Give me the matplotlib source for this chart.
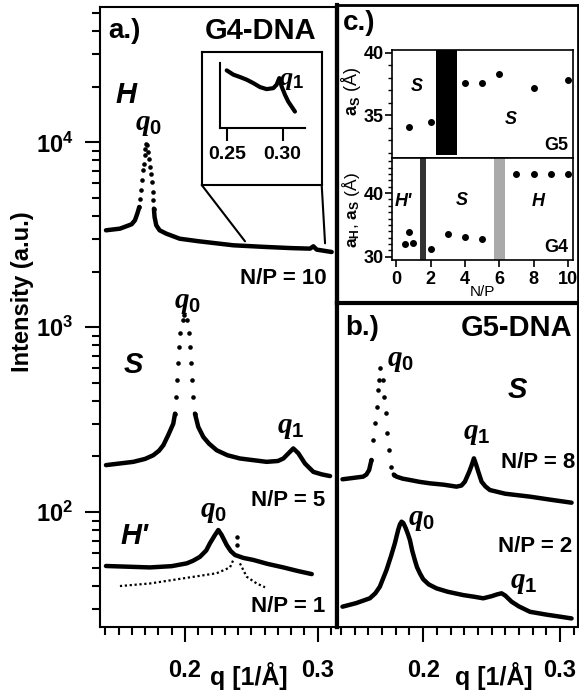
import math
import matplotlib
matplotlib.use("Agg")
import matplotlib.pyplot as plt
from matplotlib.patches import ConnectionPatch
from matplotlib.ticker import MultipleLocator, FixedLocator, LogLocator, NullFormatter, FuncFormatter

# ---- data ----
# a.) G4-DNA, N/P = 10 (H phase)
h_q = [0.1405, 0.151, 0.1598, 0.1623, 0.1641, 0.1656, 0.1661, 0.1668, 0.1678, 0.1686, 0.1691,
       0.1696, 0.1701, 0.1706, 0.1716, 0.1724, 0.1731, 0.1736, 0.1741, 0.1749, 0.1756, 0.1761,
       0.1766, 0.1771, 0.1784, 0.1809, 0.1859, 0.1960, 0.21, 0.2365, 0.26, 0.28, 0.2942,
       0.2967, 0.2992, 0.3105]
h_I = [3345, 3414, 3605, 3788, 4117, 4473, 4960, 5502, 6232, 7057, 7668, 8506, 9244, 9835,
       9637, 8864, 8157, 7356, 6770, 6105, 5389, 4859, 4380, 3948, 3558, 3345, 3209, 3013,
       2920, 2775, 2720, 2680, 2662, 2740, 2630, 2553]
# a.) N/P = 5 (S phase)
s_q = [0.1405, 0.1611, 0.1700, 0.1761, 0.1805, 0.1837, 0.1874, 0.1912, 0.1925, 0.1932, 0.1937,
       0.1945, 0.1952, 0.1962, 0.1982, 0.1995, 0.2018, 0.2028, 0.2038, 0.2045, 0.2053, 0.2063,
       0.2075, 0.2100, 0.2138, 0.2180, 0.2239, 0.2320, 0.2414, 0.2615, 0.2700, 0.2741, 0.2791,
       0.2816, 0.2854, 0.2904, 0.2967, 0.3030, 0.3093]
s_I = [179.5, 187, 194, 203, 215, 230, 261, 301, 341, 420, 517, 637, 783, 925, 1091, 1161, 1091,
       925, 783, 637, 517, 420, 341, 289, 255, 235, 216, 203, 195, 187, 189, 195, 212, 221, 208,
       183, 165, 160, 156.6]
# a.) N/P = 1 (H' phase), solid and dotted traces
hp_q = [0.1405, 0.1736, 0.1900, 0.2013, 0.2060, 0.2113, 0.2160, 0.2188, 0.2226, 0.2251, 0.2276,
        0.2314, 0.2345, 0.2377, 0.2440, 0.2515, 0.2620, 0.2741, 0.2850, 0.2955]
hp_I = [51.1, 50.2, 51.0, 52.8, 54.5, 57.3, 62.0, 67.8, 75.2, 80.0, 75.2, 66.4, 61.5, 58.6,
        56.5, 55.1, 52.5, 50.2, 48.0, 46.2]
hd_q = [0.1510, 0.1736, 0.1987, 0.2239, 0.2339, 0.2364, 0.2389, 0.2391, 0.2414, 0.2465, 0.2540,
        0.2603]
hd_I = [39.8, 41.1, 43.8, 46.7, 50.2, 55.1, 73.6, 66.4, 52.8, 44.7, 41.1, 39.2]
# inset: q1 of the H phase (arbitrary units)
in_q = [0.2500, 0.2560, 0.2619, 0.2679, 0.2738, 0.2798, 0.2857, 0.2917, 0.2946, 0.2970, 0.2991,
        0.3021, 0.3050, 0.3080, 0.3110]
in_I = [88.7, 82.1, 78.5, 74.4, 69.2, 63.1, 60, 61.5, 66.7, 76.9, 64.1, 51.3, 41, 33.3, 25.6]
link_q = [0.2452, 0.3055]
link_I = [2917, 2844]

# b.) G5-DNA
b8_q = [0.1410, 0.1561, 0.1585, 0.1605, 0.1622, 0.1634, 0.1647, 0.1659, 0.1671, 0.1678, 0.1688,
        0.1708, 0.1715, 0.1725, 0.1737, 0.1752, 0.1768, 0.1785, 0.1805, 0.1850, 0.1903, 0.1975,
        0.2049, 0.2150, 0.2244, 0.2280, 0.2305, 0.2337, 0.2355, 0.2371, 0.2388, 0.2403, 0.2427,
        0.2455, 0.2488, 0.2600, 0.2781, 0.2930, 0.3085]
b8_I = [150.8, 155.8, 160, 169.3, 191.8, 246, 303, 372, 458, 519, 600, 519, 422, 343, 267, 217,
        176.5, 160, 155.8, 152, 149.5, 146, 143.4, 141, 137.6, 139.5, 146.4, 165.8, 180, 195.7,
        180, 165.8, 146.4, 138, 131.9, 126, 121.5, 117, 112.7]
b2_q = [0.1410, 0.1510, 0.1610, 0.1650, 0.1683, 0.1705, 0.1732, 0.1765, 0.1793, 0.1817, 0.1830,
        0.1842, 0.1855, 0.1873, 0.1888, 0.1903, 0.1920, 0.1939, 0.1955, 0.1976, 0.2000, 0.2040,
        0.2098, 0.2180, 0.2293, 0.2370, 0.2439, 0.2500, 0.2540, 0.2573, 0.2600, 0.2646, 0.2700,
        0.2781, 0.2900, 0.3000, 0.3085]
b2_I = [30.9, 32.3, 34.3, 36.5, 39.6, 43.5, 48.8, 58, 68, 80.2, 86, 89, 87.5, 81.9, 76.5, 70.8,
        62, 55.2, 50.5, 46.8, 43.5, 40.8, 38.8, 37.2, 35.7, 35.0, 34.3, 35.2, 36.0, 36.5, 35.5,
        32.9, 31, 29, 28, 27.3, 26.7]

# c.) lattice spacings vs N/P
g5_np = [0.75, 2, 4, 5, 6, 8, 10]
g5_a = [34.1, 34.5, 37.6, 37.6, 38.3, 37.15, 37.85]
g5_gap = (2.33, 3.53)
g4_np = [0.5, 0.75, 1, 2, 3, 4, 5, 7, 8, 9, 10]
g4_a = [31.95, 33.85, 32.15, 31.3, 33.6, 33.15, 32.85, 43.05, 43.05, 43.05, 43.05]
g4_gap1 = (1.36, 1.74)
g4_gap2 = (5.70, 6.34)

W, H = 579, 690
plt.rcParams['font.family'] = ['Liberation Sans', 'DejaVu Sans']
plt.rcParams['font.weight'] = 'bold'
plt.rcParams['mathtext.fontset'] = 'custom'
plt.rcParams['mathtext.it'] = 'Liberation Serif:italic'
plt.rcParams['mathtext.rm'] = 'Liberation Sans:bold'
plt.rcParams['mathtext.bf'] = 'Liberation Sans:bold'

fig = plt.figure(figsize=(W / 100, H / 100), dpi=100)


def rect(x0, y0, x1, y1):
    return [x0 / W, 1 - y1 / H, (x1 - x0) / W, (y1 - y0) / H]


def txt(x, y, s, **kw):
    kw.setdefault('ha', 'center')
    kw.setdefault('va', 'center')
    return fig.text(x / W, 1 - y / H, s, **kw)


def trace(ax, q, I, dots):
    # solid line where the points are dense, single dots on the steep peak flanks
    i0, i1 = dots
    kw = dict(color='k', lw=3.2, solid_capstyle='round', solid_joinstyle='round')
    ax.plot(q[:i0 + 1], I[:i0 + 1], **kw)
    ax.plot(q[i1 - 1:], I[i1 - 1:], **kw)
    ax.plot(q[i0:i1], I[i0:i1], 'o', color='k', ms=3.3, mec='none')


def qlabel(x, y, sub, size=21):
    txt(x, y, r'$\mathit{q_%s}$' % sub, fontsize=size)


# ---- a.) ----
ax_a = fig.add_axes(rect(100, 7, 337, 627))
ax_a.set_yscale('log')
ax_a.set_xlim(0.136, 0.3145)
ax_a.set_ylim(23.9, 5.4e4)
trace(ax_a, h_q, h_I, (5, 23))
trace(ax_a, s_q, s_I, (8, 23))
ax_a.plot(hp_q, hp_I, color='k', lw=3.2, solid_capstyle='round', solid_joinstyle='round')
ax_a.plot(hd_q[:6], hd_I[:6], color='k', lw=1.6, ls=(0, (1, 1.2)))
ax_a.plot(hd_q[8:], hd_I[8:], color='k', lw=1.6, ls=(0, (1, 1.2)))
ax_a.plot(hd_q[6:8], hd_I[6:8], 'o', color='k', ms=2.2)
ax_a.xaxis.set_major_locator(FixedLocator([0.2, 0.3]))
ax_a.xaxis.set_minor_locator(MultipleLocator(0.01))
ax_a.xaxis.set_major_formatter(FuncFormatter(lambda v, p: '%.1f' % v))
ax_a.yaxis.set_major_locator(LogLocator(base=10))
ax_a.yaxis.set_minor_locator(LogLocator(base=10, subs=range(2, 10)))
ax_a.yaxis.set_minor_formatter(NullFormatter())
ax_a.yaxis.set_major_formatter(FuncFormatter(lambda v, p: r'$\mathbf{10^{%d}}$' % round(math.log10(v))))
ax_a.tick_params(which='major', direction='out', length=11, width=1.5, labelsize=17)
ax_a.tick_params(which='minor', direction='out', length=6, width=1.5)
ax_a.tick_params(axis='x', which='major', pad=12)
ax_a.tick_params(axis='y', which='major', pad=8)
for s in ax_a.spines.values():
    s.set_linewidth(1.5)
ax_a.spines['right'].set_linewidth(3)

# inset box + zoomed axes
box = fig.add_axes(rect(201.7, 51.7, 321.7, 185))
box.set_xticks([])
box.set_yticks([])
for s in box.spines.values():
    s.set_linewidth(1.5)
box.patch.set_alpha(0)
ax_in = fig.add_axes(rect(220, 63, 305, 128.3))
ax_in.plot(in_q, in_I, color='k', lw=3, solid_capstyle='round')
ax_in.set_xlim(0.244, 0.320)
ax_in.set_ylim(0, 100)
ax_in.set_xticks([0.25, 0.30])
ax_in.set_xticklabels(['0.25', '0.30'])
ax_in.set_yticks([])
ax_in.spines['top'].set_visible(False)
ax_in.spines['right'].set_visible(False)
for s in ax_in.spines.values():
    s.set_linewidth(1.5)
ax_in.tick_params(axis='x', direction='out', length=9, width=1.5, labelsize=14, pad=4)
ax_in.patch.set_alpha(0)
for corner, q, I in zip([(0, 0), (1, 0)], link_q, link_I):
    con = ConnectionPatch(xyA=corner, coordsA=box.transAxes, xyB=(q, I), coordsB=ax_a.transData,
                          color='k', lw=1.5)
    fig.add_artist(con)

# ---- b.) ----
ax_b = fig.add_axes(rect(337, 303, 578, 627))
ax_b.set_yscale('log')
ax_b.set_xlim(0.137, 0.3132)
ax_b.set_ylim(24.0, 1352)
trace(ax_b, b8_q, b8_I, (4, 18))
ax_b.plot(b2_q, b2_I, color='k', lw=3.2, solid_capstyle='round', solid_joinstyle='round')
ax_b.xaxis.set_major_locator(FixedLocator([0.2, 0.3]))
ax_b.xaxis.set_minor_locator(MultipleLocator(0.01))
ax_b.xaxis.set_major_formatter(FuncFormatter(lambda v, p: '%.1f' % v))
ax_b.yaxis.set_major_locator(FixedLocator([]))
ax_b.yaxis.set_minor_locator(FixedLocator([]))
ax_b.tick_params(which='major', direction='out', length=11, width=1.5, labelsize=17, pad=12)
ax_b.tick_params(which='minor', direction='out', length=6, width=1.5)
for s in ax_b.spines.values():
    s.set_linewidth(1.5)
ax_b.spines['left'].set_linewidth(3)
ax_b.spines['top'].set_linewidth(3)

# ---- c.) ----
ax_cf = fig.add_axes(rect(337, 5, 578, 303))
ax_cf.set_xticks([])
ax_cf.set_yticks([])
for s in ax_cf.spines.values():
    s.set_linewidth(2)
ax_cf.spines['left'].set_linewidth(3)
ax_cf.patch.set_alpha(0)

ax_g5 = fig.add_axes(rect(392, 50, 573, 158))
ax_g5.axvspan(*g5_gap, ymin=0.03, ymax=1, color='k', lw=0)
ax_g5.plot(g5_np, g5_a, 'o', color='k', ms=4)
ax_g5.set_xlim(-0.25, 10.3)
ax_g5.set_ylim(31.6, 40.2)
ax_g5.set_xticks([])
ax_g5.yaxis.set_major_locator(FixedLocator([35, 40]))
ax_g5.yaxis.set_minor_locator(MultipleLocator(1))
ax_g5.set_ylabel(r'$\mathbf{a_S}$ (Å)', fontsize=13, labelpad=0)
ax_g5.yaxis.set_label_coords(-0.16, 0.62)

ax_g4 = fig.add_axes(rect(392, 158, 573, 260))
ax_g4.axvspan(*g4_gap1, color='#333333', lw=0)
ax_g4.axvspan(*g4_gap2, color='#aaaaaa', lw=0)
ax_g4.plot(g4_np, g4_a, 'o', color='k', ms=4)
ax_g4.set_xlim(-0.25, 10.3)
ax_g4.set_ylim(29.5, 45.5)
ax_g4.set_xticks([0, 2, 4, 6, 8, 10])
ax_g4.yaxis.set_major_locator(FixedLocator([30, 40]))
ax_g4.yaxis.set_minor_locator(MultipleLocator(1))
ax_g4.set_xlabel('N/P', fontsize=11, labelpad=-2)
ax_g4.set_ylabel(r'$\mathbf{a_H}$, $\mathbf{a_S}$ (Å)', fontsize=12.5, labelpad=0)
ax_g4.yaxis.set_label_coords(-0.165, 0.49)
for ax in (ax_g5, ax_g4):
    ax.tick_params(which='major', direction='out', length=5, width=1.2, labelsize=13, pad=1)
    ax.tick_params(which='minor', direction='out', length=3, width=1)
    for s in ax.spines.values():
        s.set_linewidth(1.2)
ax_g4.tick_params(axis='x', which='major', pad=3)

# ---- labels ----
txt(108, 31, 'a.)', fontsize=20, ha='left')
txt(316, 31, 'G4-DNA', fontsize=21, ha='right')
txt(126, 95, 'H', fontsize=21, style='italic')
qlabel(148, 124, '0')
txt(327, 278, 'N/P = 10', fontsize=16, ha='right')
qlabel(187, 302, '0')
txt(133, 365, 'S', fontsize=21, style='italic')
qlabel(291, 427, '1')
txt(325, 500, 'N/P = 5', fontsize=16, ha='right')
txt(134, 536, "H'", fontsize=21, style='italic')
qlabel(213, 511, '0')
txt(325, 607, 'N/P = 1', fontsize=16, ha='right')
qlabel(291, 80, '1', size=19)
txt(23, 292, 'Intensity (a.u.)', fontsize=17, rotation=90)
txt(249, 676, 'q [1/Å]', fontsize=18)

txt(345, 328, 'b.)', fontsize=20, ha='left')
txt(572, 328, 'G5-DNA', fontsize=21, ha='right')
qlabel(400, 360, '0')
txt(517, 390, 'S', fontsize=21, style='italic')
qlabel(477, 433, '1')
txt(575, 462, 'N/P = 8', fontsize=16, ha='right')
qlabel(421, 519, '0')
txt(572, 547, 'N/P = 2', fontsize=16, ha='right')
qlabel(524, 582, '1')
txt(494, 676, 'q [1/Å]', fontsize=18)

txt(343, 23, 'c.)', fontsize=20, ha='left')
ax_g5.text(1.2, 37.3, 'S', fontsize=13, style='italic', ha='center', va='center')
ax_g5.text(6.7, 34.7, 'S', fontsize=13, style='italic', ha='center', va='center')
ax_g5.text(10.0, 32.6, 'G5', fontsize=13, ha='right', va='center')
ax_g4.text(0.4, 38.7, "H'", fontsize=13, style='italic', ha='center', va='center')
ax_g4.text(3.8, 38.9, 'S', fontsize=13, style='italic', ha='center', va='center')
ax_g4.text(8.3, 38.7, 'H', fontsize=13, style='italic', ha='center', va='center')
ax_g4.text(10.0, 31.4, 'G4', fontsize=13, ha='right', va='center')

fig.savefig('out.png', dpi=100)
